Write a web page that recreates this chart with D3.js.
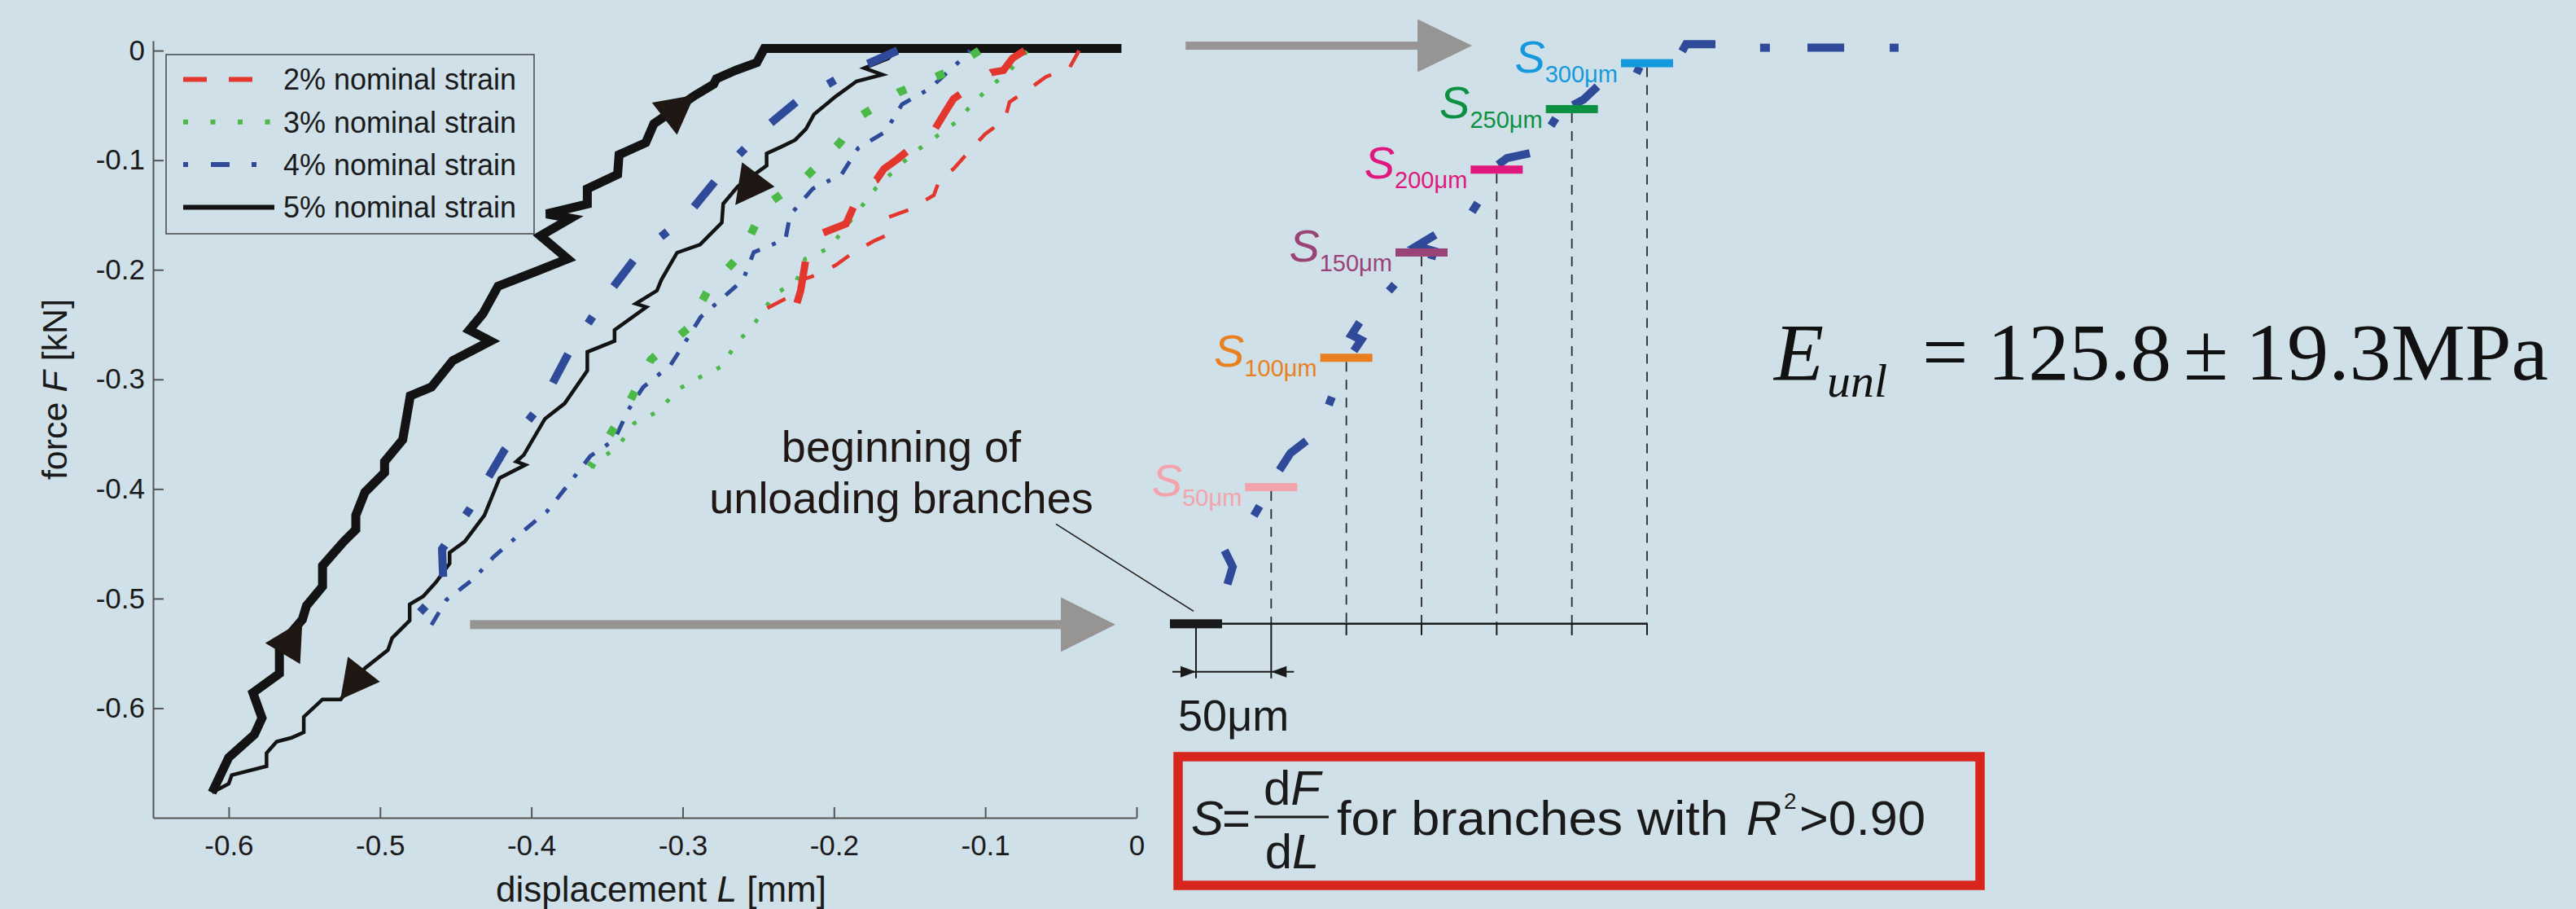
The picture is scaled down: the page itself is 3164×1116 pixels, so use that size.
<!DOCTYPE html>
<html>
<head>
<meta charset="utf-8">
<script src="https://cdn.jsdelivr.net/npm/d3@7"></script>
<style>
  body { margin: 0; background: #cfe0e8; }
  svg { display: block; font-family: "Liberation Sans", Arial, sans-serif; }
</style>
</head>
<body>
<svg></svg>
<script>
// displacement L [mm], force F [kN]
// 5% nominal strain loop (thick branch bottom -> top, thin branch bottom -> top)
let black5Thick = [[-0.611,-0.677],[-0.600,-0.645],[-0.583,-0.624],[-0.578,-0.609],[-0.584,-0.586],[-0.5665,-0.5685],[-0.5665,-0.5437],[-0.5513,-0.519],[-0.5486,-0.5066],[-0.538,-0.489],[-0.538,-0.470],[-0.524,-0.448],[-0.516,-0.437],[-0.516,-0.424],[-0.510,-0.403],[-0.497,-0.385],[-0.497,-0.375],[-0.485,-0.355],[-0.480,-0.315],[-0.466,-0.307],[-0.452,-0.283],[-0.427,-0.265],[-0.441,-0.255],[-0.432,-0.240],[-0.422,-0.215],[-0.396,-0.201],[-0.376,-0.190],[-0.394,-0.169],[-0.374,-0.153],[-0.390,-0.149],[-0.363,-0.140],[-0.363,-0.126],[-0.343,-0.113],[-0.342,-0.095],[-0.3244,-0.084],[-0.319,-0.0667],[-0.292,-0.041],[-0.2795,-0.0307],[-0.2777,-0.0258],[-0.265,-0.018],[-0.251,-0.011],[-0.246,0.002],[-0.231,0.002],[-0.010,0.002]];
let black5Thin = [[-0.611,-0.677],[-0.600,-0.669],[-0.598,-0.661],[-0.575,-0.653],[-0.575,-0.641],[-0.5683,-0.6305],[-0.5585,-0.627],[-0.5504,-0.622],[-0.5504,-0.608],[-0.538,-0.592],[-0.526,-0.592],[-0.510,-0.5636],[-0.4948,-0.547],[-0.492,-0.536],[-0.4804,-0.520],[-0.4804,-0.5053],[-0.4715,-0.498],[-0.463,-0.485],[-0.454,-0.468],[-0.454,-0.458],[-0.444,-0.448],[-0.431,-0.424],[-0.426,-0.407],[-0.421,-0.390],[-0.404,-0.378],[-0.410,-0.375],[-0.405,-0.369],[-0.391,-0.336],[-0.378,-0.322],[-0.363,-0.292],[-0.363,-0.275],[-0.345,-0.265],[-0.345,-0.255],[-0.324,-0.234],[-0.331,-0.231],[-0.317,-0.219],[-0.314,-0.209],[-0.3037,-0.1844],[-0.2885,-0.177],[-0.2741,-0.157],[-0.2732,-0.1398],[-0.2634,-0.1237],[-0.2445,-0.105],[-0.2445,-0.0939],[-0.2347,-0.0877],[-0.2257,-0.0816],[-0.2185,-0.0716],[-0.2131,-0.058],[-0.199,-0.042],[-0.185,-0.028],[-0.168,-0.022],[-0.180,-0.016],[-0.164,-0.007],[-0.158,0.002]];
// 2% nominal strain
let red2Thick = [[-0.074,0.0],[-0.082,-0.007],[-0.088,-0.018],[-0.096,-0.020],[-0.121,-0.044],[-0.126,-0.055],[-0.133,-0.071],[-0.158,-0.099],[-0.167,-0.108],[-0.172,-0.118],[-0.181,-0.124],[-0.192,-0.158],[-0.214,-0.170],[-0.217,-0.177],[-0.222,-0.219],[-0.225,-0.233],[-0.244,-0.235]];
let red2Thin = [[-0.244,-0.235],[-0.222,-0.219],[-0.221,-0.209],[-0.212,-0.205],[-0.199,-0.196],[-0.188,-0.185],[-0.174,-0.174],[-0.166,-0.169],[-0.164,-0.152],[-0.150,-0.145],[-0.134,-0.132],[-0.130,-0.117],[-0.121,-0.108],[-0.110,-0.091],[-0.100,-0.076],[-0.087,-0.063],[-0.084,-0.047],[-0.069,-0.033],[-0.060,-0.024],[-0.044,-0.015],[-0.038,0.0]];
// 3% nominal strain
let green3Thick = [[-0.104,0.0],[-0.126,-0.020],[-0.157,-0.038],[-0.184,-0.061],[-0.196,-0.084],[-0.219,-0.116],[-0.246,-0.142],[-0.261,-0.185],[-0.283,-0.218],[-0.297,-0.254],[-0.321,-0.282],[-0.336,-0.323],[-0.354,-0.364],[-0.361,-0.380]];
let green3Thin = [[-0.361,-0.380],[-0.342,-0.360],[-0.332,-0.340],[-0.316,-0.329],[-0.303,-0.309],[-0.290,-0.299],[-0.274,-0.288],[-0.265,-0.268],[-0.253,-0.250],[-0.239,-0.222],[-0.225,-0.211],[-0.219,-0.190],[-0.203,-0.180],[-0.181,-0.141],[-0.172,-0.125],[-0.159,-0.108],[-0.147,-0.093],[-0.133,-0.079],[-0.119,-0.065],[-0.110,-0.051],[-0.097,-0.033],[-0.085,-0.020],[-0.072,0.0]];
// 4% nominal strain
let blue4Thick = [[-0.158,0.0],[-0.189,-0.019],[-0.225,-0.047],[-0.246,-0.071],[-0.272,-0.108],[-0.298,-0.152],[-0.330,-0.187],[-0.352,-0.227],[-0.375,-0.275],[-0.393,-0.322],[-0.418,-0.365],[-0.441,-0.419],[-0.459,-0.455],[-0.458,-0.490],[-0.481,-0.523]];
let blue4Thin = [[-0.466,-0.524],[-0.456,-0.501],[-0.438,-0.482],[-0.425,-0.462],[-0.410,-0.444],[-0.398,-0.430],[-0.390,-0.421],[-0.375,-0.395],[-0.361,-0.370],[-0.345,-0.355],[-0.336,-0.328],[-0.326,-0.307],[-0.308,-0.287],[-0.297,-0.263],[-0.288,-0.243],[-0.273,-0.225],[-0.260,-0.209],[-0.253,-0.184],[-0.232,-0.172],[-0.229,-0.150],[-0.214,-0.126],[-0.195,-0.113],[-0.184,-0.089],[-0.166,-0.074],[-0.155,-0.049],[-0.137,-0.035],[-0.118,-0.011],[-0.110,0.0]];

let seriesNames = ['2% nominal strain', '3% nominal strain', '4% nominal strain', '5% nominal strain'];
let xTicks = [-0.6, -0.5, -0.4, -0.3, -0.2, -0.1, 0];
let yTicks = [0, -0.1, -0.2, -0.3, -0.4, -0.5, -0.6];

// arrowheads on the 5% loop: tip L, tip F, direction (deg)
let arrowTips = [[-0.2921,-0.0407,-38],[-0.2652,-0.1410,127],[-0.5513,-0.5202,-59],[-0.5262,-0.5920,128]];

// magnified unloading branch: displacement from start [µm], F [kN], one array per visible stroke
let stepPieces = [
  [[20.9,-0.487],[24.4,-0.471],[19.0,-0.456]],
  [[38.5,-0.4245],[42.3,-0.4156]],
  [[55.5,-0.3829],[62.8,-0.3673],[73.4,-0.3561]],
  [[88.3,-0.3234],[90.4,-0.316]],
  [[108.8,-0.248],[103.4,-0.2595],[109.9,-0.264],[105.0,-0.274]],
  [[128.3,-0.2193],[132.1,-0.2134]],
  [[159.2,-0.168],[146.7,-0.1784],[158.1,-0.1829],[156.5,-0.1903]],
  [[183.6,-0.1472],[187.4,-0.139]],
  [[200.9,-0.1041],[206.8,-0.0981],[222.0,-0.0937]],
  [[236.1,-0.0684],[239.3,-0.0617]],
  [[250.7,-0.0498],[257.8,-0.0446],[267.0,-0.0327]],
  [[293.0,-0.0208],[295.1,-0.0149]],
  [[323.3,-0.0007],[326.0,0.0059],[345.5,0.0059]],
  [[375.2,0.0026],[381.7,0.0026]],
  [[406.7,0.0026],[431.1,0.0026]],
  [[461.4,0.0026],[467.3,0.0026]]
];
let stepUm = [50, 100, 150, 200, 250, 300];
let stepLabels = ['50μm', '100μm', '150μm', '200μm', '250μm', '300μm'];
let stepForce = [-0.3983, -0.2803, -0.1842, -0.1086, -0.0534, -0.0115];
let stepColors = ['#f3a3ac', '#e98020', '#9a4376', '#e0177c', '#0c9142', '#1599dd'];
let startForce = -0.523;

let width = 3164;
let height = 1116;

let svg = d3.select('svg');

let xScale, yScale, zScale;

let seriesStyle = [
  {color: '#e3362c', thick: {w: 9, dash: '52,46'}, thin: {w: 4.5, dash: '25,25'}, legend: '29,27'},
  {color: '#4cb848', thick: {w: 10, dash: '11,40'}, thin: {w: 5, dash: '5,20'}, legend: '6,27.5'},
  {color: '#2f4a99', thick: {w: 10, dash: '40,45,10,45'}, thin: {w: 5, dash: '18,16,5,16'}, legend: '6,28,23,27'},
  {color: '#131313', thick: {w: 11, dash: null}, thin: {w: 4.5, dash: null}, legend: null}
];

let drawCanvas = () => {
    svg.attr('width', width).attr('height', height);
    svg.append('rect').attr('width', width).attr('height', height).attr('fill', '#cfe0e8');
}

let generateScales = () => {
    xScale = d3.scaleLinear().domain([-0.65, 0]).range([188, 1396]);
    yScale = d3.scaleLinear().domain([-0.70, 0.009]).range([1004, 50]);
    // right-hand magnified branch, µm from beginning of unloading
    zScale = d3.scaleLinear().domain([0, 300]).range([1469, 2023]);
}

let fmt = (d) => d === 0 ? '0' : d.toFixed(1);

let generateAxes = () => {
    let xAxis = d3.axisBottom(xScale).tickValues(xTicks).tickSizeInner(-13).tickSizeOuter(0).tickPadding(21).tickFormat(fmt);
    let yAxis = d3.axisLeft(yScale).tickValues(yTicks).tickSizeInner(-13).tickSizeOuter(0).tickPadding(10).tickFormat(fmt);

    let gx = svg.append('g').attr('transform', 'translate(0,' + yScale.range()[0] + ')').call(xAxis);
    let gy = svg.append('g').attr('transform', 'translate(' + xScale.range()[0] + ',0)').call(yAxis);

    [gx, gy].forEach((g) => {
        g.attr('font-size', 35).attr('font-family', '"Liberation Sans", Arial, sans-serif');
        g.selectAll('path, line').attr('stroke', '#555').attr('stroke-width', 2);
        g.selectAll('text').attr('fill', '#1a1a1a');
    });

    let xt = svg.append('text')
       .attr('x', (xScale.range()[0] + xScale.range()[1]) / 2 + 20)
       .attr('y', 1107)
       .attr('text-anchor', 'middle')
       .attr('font-size', 44)
       .attr('fill', '#1a1a1a');
    xt.append('tspan').text('displacement ');
    xt.append('tspan').attr('font-style', 'italic').text('L');
    xt.append('tspan').text(' [mm]');

    let yt = svg.append('text')
       .attr('transform', 'translate(82,478) rotate(-90)')
       .attr('text-anchor', 'middle')
       .attr('font-size', 43)
       .attr('fill', '#1a1a1a');
    yt.append('tspan').text('force ');
    yt.append('tspan').attr('font-style', 'italic').text('F');
    yt.append('tspan').text(' [kN]');
}

let drawLines = () => {
    let line = d3.line().x((d) => xScale(d[0])).y((d) => yScale(d[1]));
    let branches = [
        [black5Thick, 3, 'thick'], [black5Thin, 3, 'thin'],
        [blue4Thick, 2, 'thick'], [blue4Thin, 2, 'thin'],
        [green3Thick, 1, 'thick'], [green3Thin, 1, 'thin'],
        [red2Thick, 0, 'thick'], [red2Thin, 0, 'thin']
    ];
    branches.forEach((b) => {
        let st = seriesStyle[b[1]];
        let s = st[b[2]];
        svg.append('path')
           .datum(b[0])
           .attr('d', line)
           .attr('fill', 'none')
           .attr('stroke', st.color)
           .attr('stroke-width', s.w)
           .attr('stroke-linejoin', 'miter')
           .attr('stroke-dasharray', s.dash);
    });

    svg.selectAll('.arrowhead')
       .data(arrowTips)
       .enter()
       .append('path')
       .attr('class', 'arrowhead')
       .attr('d', 'M0,0L-47,-25L-47,25Z')
       .attr('fill', '#1e1714')
       .attr('transform', (d) => 'translate(' + xScale(d[0]) + ',' + yScale(d[1]) + ') rotate(' + d[2] + ')');
}

let drawLegend = () => {
    let g = svg.append('g');
    g.append('rect').attr('x', 204).attr('y', 67).attr('width', 452).attr('height', 220)
     .attr('fill', 'none').attr('stroke', '#444').attr('stroke-width', 1.5);
    seriesNames.forEach((name, i) => {
        let y = 97.5 + i * 52.3;
        g.append('line').attr('x1', 225).attr('x2', 337).attr('y1', y).attr('y2', y)
         .attr('stroke', seriesStyle[i].color).attr('stroke-width', 6)
         .attr('stroke-dasharray', seriesStyle[i].legend);
        g.append('text').attr('x', 348).attr('y', y).attr('dy', '0.36em')
         .attr('font-size', 36).attr('fill', '#1a1a1a').text(name);
    });
}

let drawAnnotations = () => {
    let grey = '#979593';
    // arrow under the loops
    let ya = yScale(startForce) + 1;
    let xa0 = xScale(-0.4405), xa1 = xScale(-0.014);
    svg.append('rect').attr('x', xa0).attr('y', ya - 5.5).attr('width', xa1 - 67 - xa0 + 1).attr('height', 11).attr('fill', grey);
    svg.append('path').attr('d', 'M' + xa1 + ',' + ya + 'L' + (xa1 - 67) + ',' + (ya - 33.5) + 'L' + (xa1 - 67) + ',' + (ya + 33.5) + 'Z').attr('fill', grey);
    // arrow at the top
    let yb = yScale(0.0045);
    let xb0 = zScale(-6.9), xb1 = zScale(183.6);
    svg.append('rect').attr('x', xb0).attr('y', yb - 5).attr('width', xb1 - 67 - xb0 + 1).attr('height', 10).attr('fill', grey);
    svg.append('path').attr('d', 'M' + xb1 + ',' + yb + 'L' + (xb1 - 67) + ',' + (yb - 32.5) + 'L' + (xb1 - 67) + ',' + (yb + 32.5) + 'Z').attr('fill', grey);

    let t = svg.append('text').attr('text-anchor', 'middle').attr('font-size', 54).attr('fill', '#1e1714');
    t.append('tspan').attr('x', 1107).attr('y', 567).text('beginning of');
    t.append('tspan').attr('x', 1107).attr('y', 630).text('unloading branches');
    svg.append('line')
       .attr('x1', xScale(-0.0533)).attr('y1', yScale(-0.432))
       .attr('x2', zScale(-1.6)).attr('y2', yScale(-0.5115))
       .attr('stroke', '#1e1714').attr('stroke-width', 1.5);
}

let drawSteps = () => {
    let yBase = yScale(startForce);
    let line = d3.line().x((d) => zScale(d[0])).y((d) => yScale(d[1]));

    // dashed guides from each stiffness bar down to the base line
    stepUm.forEach((u, i) => {
        svg.append('line')
           .attr('x1', zScale(u)).attr('x2', zScale(u))
           .attr('y1', yScale(stepForce[i]) + 5).attr('y2', yBase)
           .attr('stroke', '#2a2a2a').attr('stroke-width', 1.8).attr('stroke-dasharray', '12,10');
    });

    svg.append('line').attr('x1', zScale(0)).attr('x2', zScale(300))
       .attr('y1', yBase).attr('y2', yBase).attr('stroke', '#1a1a1a').attr('stroke-width', 2.5);
    [0].concat(stepUm).forEach((u) => {
        svg.append('line').attr('x1', zScale(u)).attr('x2', zScale(u))
           .attr('y1', yBase).attr('y2', u <= 50 ? yBase + 67 : yBase + 14)
           .attr('stroke', '#1a1a1a').attr('stroke-width', 2);
    });

    // 50 µm dimension
    let yd = yBase + 59;
    svg.append('line').attr('x1', zScale(0) - 29).attr('x2', zScale(50) + 28)
       .attr('y1', yd).attr('y2', yd).attr('stroke', '#1a1a1a').attr('stroke-width', 2);
    let x0 = zScale(0), x1 = zScale(50);
    svg.append('path').attr('d', 'M' + x0 + ',' + yd + 'L' + (x0 - 19) + ',' + (yd - 7) + 'L' + (x0 - 19) + ',' + (yd + 7) + 'Z').attr('fill', '#1a1a1a');
    svg.append('path').attr('d', 'M' + x1 + ',' + yd + 'L' + (x1 + 19) + ',' + (yd - 7) + 'L' + (x1 + 19) + ',' + (yd + 7) + 'Z').attr('fill', '#1a1a1a');
    svg.append('text').attr('x', (x0 + x1) / 2).attr('y', yBase + 131).attr('text-anchor', 'middle')
       .attr('font-size', 54).attr('fill', '#1a1a1a').text('50μm');

    svg.selectAll('.piece')
       .data(stepPieces)
       .enter()
       .append('path')
       .attr('class', 'piece')
       .attr('d', line)
       .attr('fill', 'none')
       .attr('stroke', seriesStyle[2].color)
       .attr('stroke-width', 10)
       .attr('stroke-linejoin', 'miter');

    // start bar
    svg.append('rect').attr('x', zScale(0) - 32).attr('y', yBase - 5.5).attr('width', 64).attr('height', 11).attr('fill', '#1a1a1a');

    stepUm.forEach((u, i) => {
        let yb = yScale(stepForce[i]);
        svg.append('rect').attr('x', zScale(u) - 32).attr('y', yb - 5).attr('width', 64).attr('height', 10).attr('fill', stepColors[i]);
        let t = svg.append('text').attr('x', zScale(u) - 36).attr('y', yb + 11)
                   .attr('text-anchor', 'end').attr('fill', stepColors[i]);
        t.append('tspan').attr('font-size', 56).attr('font-style', 'italic').text('S');
        t.append('tspan').attr('font-size', 29).attr('dy', 12).text(stepLabels[i]);
    });
}

let drawFormulas = () => {
    // stiffness definition box
    svg.append('rect').attr('x', 1447).attr('y', 929).attr('width', 985).attr('height', 158)
       .attr('fill', 'none').attr('stroke', '#d8261d').attr('stroke-width', 11.5);
    let g = svg.append('g').attr('font-size', 60).attr('fill', '#1a1a1a');
    g.append('text').attr('x', 1463).attr('y', 1025).attr('font-style', 'italic').text('S');
    g.append('text').attr('x', 1501).attr('y', 1025).text('=');
    let num = g.append('text').attr('x', 1587).attr('y', 988).attr('text-anchor', 'middle');
    num.append('tspan').text('d');
    num.append('tspan').attr('font-style', 'italic').text('F');
    g.append('line').attr('x1', 1541).attr('x2', 1632).attr('y1', 1003).attr('y2', 1003).attr('stroke', '#1a1a1a').attr('stroke-width', 3);
    let den = g.append('text').attr('x', 1587).attr('y', 1066).attr('text-anchor', 'middle');
    den.append('tspan').text('d');
    den.append('tspan').attr('font-style', 'italic').text('L');
    g.append('text').attr('x', 1642).attr('y', 1025)
     .attr('textLength', 481).attr('lengthAdjust', 'spacingAndGlyphs').text('for branches with');
    g.append('text').attr('x', 2145).attr('y', 1025).attr('font-style', 'italic').text('R');
    g.append('text').attr('x', 2191).attr('y', 993).attr('font-size', 28).text('2');
    g.append('text').attr('x', 2210).attr('y', 1025)
     .attr('textLength', 155).attr('lengthAdjust', 'spacingAndGlyphs').text('>0.90');

    // modulus
    let e = svg.append('g').attr('font-family', '"Liberation Serif", "Times New Roman", serif').attr('font-size', 100).attr('fill', '#111');
    e.append('text').attr('x', 2179).attr('y', 466).attr('font-style', 'italic').text('E');
    e.append('text').attr('x', 2244).attr('y', 487).attr('font-size', 58).attr('font-style', 'italic').text('unl');
    e.append('text').attr('x', 2361).attr('y', 466).text('=');
    e.append('text').attr('x', 2441).attr('y', 466)
     .attr('textLength', 226).attr('lengthAdjust', 'spacingAndGlyphs').text('125.8');
    e.append('text').attr('x', 2682).attr('y', 466).text('±');
    e.append('text').attr('x', 2758).attr('y', 466)
     .attr('textLength', 372).attr('lengthAdjust', 'spacingAndGlyphs').text('19.3MPa');
}

drawCanvas();
generateScales();
drawLines();
generateAxes();
drawLegend();
drawAnnotations();
drawSteps();
drawFormulas();
</script>
</body>
</html>
